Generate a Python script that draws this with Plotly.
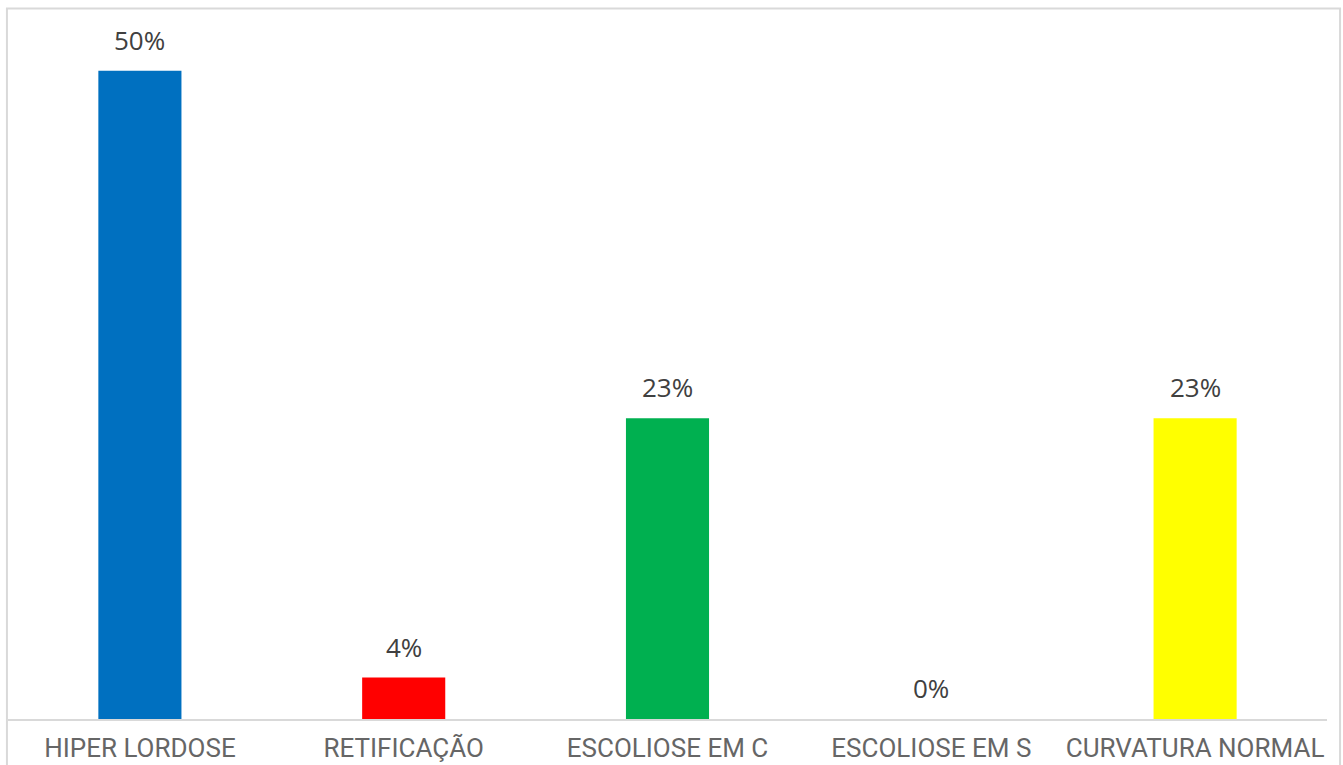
import plotly.graph_objects as go

categories = ["HIPER LORDOSE", "RETIFICAÇÃO", "ESCOLIOSE EM C", "ESCOLIOSE EM S", "CURVATURA NORMAL"]
values = [50, 3.2, 23.2, 0, 23.2]
labels = ["50%", "4%", "23%", "0%", "23%"]
colors = ["#0070C0", "#FF0000", "#00B050", "#FFFF00", "#FFFF00"]

fig = go.Figure()
fig.add_trace(go.Bar(
    x=categories, y=values,
    marker=dict(color=colors, line=dict(width=0)),
    hoverinfo="skip",
))

for c, v, t in zip(categories, values, labels):
    fig.add_annotation(
        x=c, y=v, text=t, showarrow=False, yanchor="bottom",
        yshift=11, font=dict(family="Open Sans", size=26, color="#404040"),
    )

fig.add_shape(
    type="rect", xref="paper", yref="paper",
    x0=-0.0008, x1=1.0099, y0=-0.08, y1=1.0150,
    line=dict(color="#D9D9D9", width=2), fillcolor="rgba(0,0,0,0)", layer="below",
)

fig.update_layout(
    width=1343, height=765,
    margin=dict(l=8, r=16, t=19, b=46),
    paper_bgcolor="white", plot_bgcolor="white",
    bargap=0.685,
    showlegend=False,
    xaxis=dict(
        showline=True, linecolor="#D9D9D9", linewidth=2, automargin=False,
        showgrid=False, ticks="outside", ticklen=5, tickcolor="rgba(0,0,0,0)",
        tickfont=dict(family="Roboto", size=26, color="#666666"),
    ),
    yaxis=dict(range=[0, 54], visible=False, showgrid=False, zeroline=False),
)

fig.write_html("out.html")
